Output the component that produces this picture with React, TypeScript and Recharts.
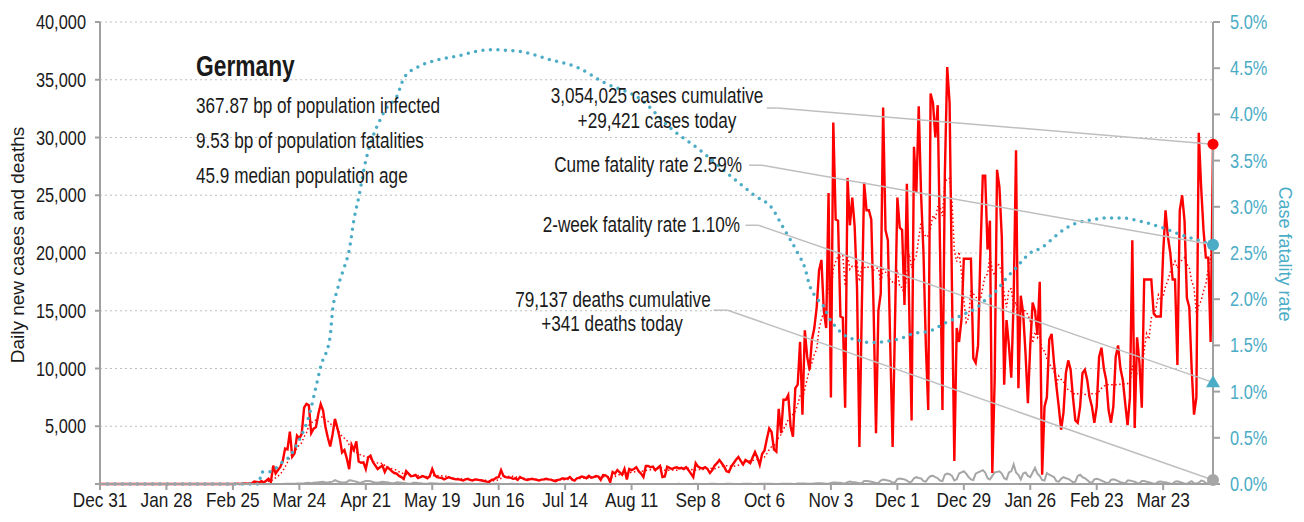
import React from "react";
import {
  ComposedChart,
  Line,
  XAxis,
  YAxis,
  CartesianGrid,
  ReferenceLine,
  ReferenceDot,
} from "recharts";

// no condensed face is installed, so text is squeezed horizontally instead
const FONT = '"Liberation Sans", Arial, sans-serif';
const NARROW = 0.78;
const RED = "#FF0000";
const BLUE = "#4BACC6";
const GREY = "#A6A6A6";
const LEADER = "#BFBFBF";
const AXIS = "#A0A0A0";
const INK = "#1a1a1a";

// x axis: day 0 = Dec 31 2019, a label every 28 days
const tickDays = [0, 28, 56, 84, 112, 140, 168, 196, 224, 252, 280, 308, 336, 364, 392, 420, 448];
const tickLabels = [
  "Dec 31", "Jan 28", "Feb 25", "Mar 24", "Apr 21", "May 19", "Jun 16", "Jul 14",
  "Aug 11", "Sep 8", "Oct 6", "Nov 3", "Dec 1", "Dec 29", "Jan 26", "Feb 23", "Mar 23",
];
const leftTicks = [0, 5000, 10000, 15000, 20000, 25000, 30000, 35000, 40000];
const rightTicks = [0, 0.5, 1, 1.5, 2, 2.5, 3, 3.5, 4, 4.5, 5];

// daily new cases
const casesBeforeMarch = [
  0, 0, 0, 0, 0, 0, 0, 0, 0, 0, 0, 0, 0, 0, 0, 0, 0, 0, 0, 0, 0, 0, 0, 0, 0, 0, 0,
  1, 3, 0, 0, 1, 3, 0, 2, 0, 0, 1, 0, 0, 0, 0, 2,
  0, 0, 0, 0, 0, 0, 0, 0, 0, 0, 0, 0, 0,
];
const casesWave1 = [
  2, 10, 19, 2, 31, 51, 29, 37, 66, 220, 188, 129, 241, 136,
  281, 451, 170, 1597, 910, 1210, 1477, 1985, 3070, 2993,
  4528, 2365, 2660, 4183, 3930, 4337, 6615, 6933, 6824, 4400,
  4790, 4923, 6064, 6922, 6365, 4933, 4031, 3251, 4289, 5633,
  4885, 3990, 2737, 2946, 2218, 1287, 3394, 2945, 3699, 1945,
  1842, 1881, 1300, 2300, 2450, 1900, 1600, 1300, 1450, 1600,
  1040, 1450, 1300, 1100, 950, 900, 700, 600, 430, 1120,
  900, 680, 700, 780, 520, 600, 680, 600, 500, 700,
];
const casesSummer = [
  1300, 780, 600, 550, 520, 400, 500, 600, 500, 450,
  400, 420, 350, 300, 400, 450, 350, 300, 400, 380,
  340, 300, 250, 200, 170, 350, 400, 550, 600, 1200,
  700, 600, 550, 550, 450, 500, 350, 600, 500, 400,
  350, 400, 450, 400, 350, 300, 380, 400, 450, 400,
  380, 300, 250, 350, 400, 500, 450, 480, 600, 380,
  300, 500, 550, 650, 600, 500, 700, 550, 600, 700,
  650, 350, 780, 750, 600, 170, 1040, 900, 1200, 1000,
  800, 1300, 400, 1300, 1200, 1300, 1450, 1100, 900, 600,
  1560, 1560, 1450, 1500, 1200, 1400, 1560, 600, 650, 1500,
  1400, 1300, 1400, 1450, 1350, 1400, 1300, 1450, 1200, 900,
  600, 1800, 1500, 1400, 1350, 1450, 1300, 950, 1200, 1600,
  1800, 2080, 1800, 1500, 1100, 1040, 1500, 1800, 2100, 2340,
  2000, 1700, 2080, 1950, 1800, 2300, 2770, 2300, 1650, 2600,
];
const casesWave2 = [
  2900, 3900, 4800, 4500, 3000, 2800, 6500, 4400, 7300, 7300,
  7700, 5000, 4100, 8300, 8600, 12300, 6000, 13300, 11000, 9900,
  12500, 13500, 15300, 18500, 19400, 15000, 13500, 25200, 7500, 31300,
  22900, 22800, 14500, 14400, 6600, 26500, 22400, 24800, 22300, 17000,
  3200, 15000, 26100, 23700, 23700, 22900, 15000, 4400, 15000, 16500,
  32600, 22000, 21100, 12000, 3200, 14000, 24800, 22200, 22000, 15500,
  26000, 15000, 5500, 29200, 25200, 32700, 25000, 20000, 12000, 6400,
  33800, 33000, 30000, 32800, 20000, 6400, 26800, 36100, 33000, 17000,
  2000, 13500, 12300, 14200, 19500, 19500, 19500, 19500, 10900, 10500,
  12000, 20000, 26700, 26700, 20300, 22800, 950, 9000, 27200, 25700,
  21400, 8600, 14200, 12000, 9200, 16000, 28900, 8300, 16300, 14800,
  11300, 7000,
];
const casesWave3 = [
  12000, 15700, 15000, 12900, 17500, 800, 6700, 7500,
  12500, 13000, 10500, 8500, 6700, 4700, 6200, 9600, 10700, 9900,
  7500, 5500, 5300, 6700, 9600, 9900, 9000, 7500, 6700, 5300,
  6700, 11000, 11800, 10000, 9000, 6400, 5300, 6700, 11000, 12000,
  10000, 9000, 7000, 5100, 7500, 21100, 4850, 12700, 10500, 6600,
  17700, 17700, 17700, 17700, 14800, 14500, 14500, 14500, 20000, 23700,
  21400, 20000, 17700, 17700, 10300, 23700, 25000, 22800, 16100, 15300,
  10000, 6000, 7500, 30400, 25700, 22000, 19600, 19600, 12300, 29421,
];

// daily deaths
const deathsBeforeMarch = new Array(56).fill(0);
const deathsWave1 = [
  0, 0, 0, 0, 0, 0, 0, 0, 0, 0, 0, 0, 0,
  2, 0, 1, 3, 1, 2, 4, 4, 8, 11, 16,
  24, 24, 24, 37, 33, 49, 61, 93, 104, 66,
  104, 130, 149, 176, 184, 126, 140, 173, 206, 333,
  240, 170, 130, 125, 170, 315, 300, 250, 200, 140,
  110, 190, 250, 260, 230, 180, 120, 110, 160, 200,
  170, 150, 100, 70, 60, 140, 130, 110, 90, 60,
  40, 30, 100, 110, 80, 60, 40, 25, 20, 70,
];
const deathsSummer = [
  60, 50, 40, 30, 20, 15, 40, 50, 40, 30,
  25, 15, 10, 30, 35, 30, 25, 15, 10, 8,
  25, 20, 18, 12, 8, 5, 15, 20, 15, 10,
  8, 5, 3, 12, 15, 10, 8, 5, 3, 2,
  10, 12, 8, 6, 3, 2, 1, 8, 10, 6,
  5, 3, 1, 1, 5, 8, 6, 4, 3, 1,
  1, 6, 8, 5, 4, 3, 1, 0, 6, 7,
  5, 3, 2, 1, 0, 5, 6, 4, 3, 2,
  1, 0, 5, 7, 5, 4, 2, 1, 0, 8,
  6, 5, 3, 2, 1, 1, 8, 10, 7, 5,
  3, 1, 1, 9, 11, 8, 6, 3, 1, 1,
  10, 12, 9, 7, 4, 1, 2, 12, 15, 11,
  8, 5, 2, 3, 14, 16, 13, 10, 6, 3,
  4, 15, 18, 14, 12, 8, 4, 5, 16, 20,
];
const deathsWave2 = [
  18, 20, 25, 16, 8, 6, 8, 25, 30, 28,
  22, 15, 8, 10, 33, 45, 40, 35, 20, 12,
  15, 50, 70, 60, 55, 40, 20, 30, 90, 130,
  120, 110, 100, 40, 50, 160, 220, 180, 160, 120,
  60, 70, 260, 260, 230, 200, 150, 80, 100, 300,
  390, 350, 300, 250, 100, 150, 420, 480, 440, 400,
  300, 150, 200, 500, 590, 520, 480, 250, 200, 500,
  700, 720, 600, 500, 300, 250, 800, 900, 850, 700,
  300, 400, 900, 1000, 1100, 900, 600, 400, 350, 900,
  1000, 1100, 1200, 1000, 500, 400, 700, 1000, 1050, 1100,
  900, 500, 400, 1000, 1100, 1700, 1000, 800, 400, 900,
  1000, 700,
];
const deathsWave3 = [
  600, 1000, 1400, 900, 700, 350, 300, 950,
  800, 700, 600, 250, 200, 450, 600, 500, 450, 300,
  150, 200, 700, 800, 600, 500, 350, 150, 100, 400,
  450, 400, 300, 200, 100, 80, 350, 400, 350, 250,
  150, 100, 60, 300, 300, 250, 200, 80, 50, 250,
  250, 200, 150, 100, 30, 50, 200, 220, 180, 150,
  100, 40, 30, 200, 230, 180, 100, 50, 20, 150,
  250, 60, 50, 100, 300, 250, 90, 40, 20, 341,
];

// cumulative case fatality rate (%), read at [day, rate]
const fatalityRate = [
  [0, 0], [67, 0], [68, 0.13], [71, 0.13], [74, 0.17], [76, 0.22], [80, 0.3],
  [84, 0.48], [88, 0.73], [91, 1.05], [93, 1.27], [97, 1.6], [98, 1.88], [100, 2.1],
  [101, 2.2], [103, 2.35], [105, 2.53], [107, 2.86], [109, 3.1], [112, 3.5],
  [115, 3.76], [118, 3.94], [121, 4.08], [125, 4.19], [128, 4.39], [133, 4.5],
  [152, 4.64], [164, 4.7], [177, 4.68], [190, 4.59], [202, 4.5], [212, 4.35],
  [228, 4.16], [240, 3.86], [253, 3.61], [264, 3.37], [276, 3.12], [283, 2.99],
  [288, 2.77], [291, 2.64], [294, 2.5], [297, 2.34], [299, 2.15], [302, 2.01],
  [305, 1.92], [307, 1.81], [310, 1.7], [315, 1.59], [319, 1.56], [325, 1.53],
  [330, 1.54], [338, 1.58], [343, 1.63], [349, 1.65], [356, 1.74], [361, 1.8],
  [365, 1.85], [369, 1.9], [373, 1.99], [378, 2.1], [382, 2.23], [386, 2.34],
  [392, 2.5], [397, 2.56], [402, 2.67], [406, 2.75], [411, 2.82], [418, 2.86],
  [424, 2.88], [430, 2.88], [439, 2.84], [447, 2.78], [454, 2.71], [460, 2.66],
  [469, 2.59],
];
const twoWeekFatalityRate = 1.1;

const dailyCases = [...casesBeforeMarch, ...casesWave1, ...casesSummer, ...casesWave2, ...casesWave3];
const dailyDeaths = [...deathsBeforeMarch, ...deathsWave1, ...deathsSummer, ...deathsWave2, ...deathsWave3];
const lastDay = dailyCases.length - 1;
const cfrLookup = new Map(fatalityRate.map(([d, v]) => [d, v]));
const lastCfr = fatalityRate[fatalityRate.length - 1][1];

const rows = dailyCases.map((cases, day) => {
  // trailing 7-day average, as drawn by the dotted red line
  const win = dailyCases.slice(Math.max(0, day - 6), day + 1);
  const avg = win.reduce((a, b) => a + b, 0) / win.length;
  return {
    day,
    cases,
    avg,
    deaths: dailyDeaths[day],
    cfr: cfrLookup.has(day) ? cfrLookup.get(day) : null,
  };
});

// squeezed text, anchored at (x, y)
const Narrow = ({ x, y, size, anchor = "start", fill = INK, weight = "normal", scale = NARROW, children }: any) => (
  <text
    transform={`translate(${x},${y}) scale(${scale},1)`}
    fontFamily={FONT}
    fontSize={size}
    fontWeight={weight}
    textAnchor={anchor}
    fill={fill}
  >
    {children}
  </text>
);

const XTick = ({ x, y, payload }: any) => (
  <Narrow x={x} y={y + 15} size={21} anchor="middle" scale={0.82}>
    {tickLabels[tickDays.indexOf(payload.value)]}
  </Narrow>
);

const LeftTick = ({ x, y, payload }: any) =>
  payload.value === 0 ? null : (
    <Narrow x={x} y={y + 7} size={21}>
      <tspan textAnchor="end">{payload.value.toLocaleString("en-US")}</tspan>
    </Narrow>
  );

const RightTick = ({ x, y, payload }: any) => (
  <Narrow x={x} y={y + 7} size={21} fill={BLUE}>
    {`${payload.value.toFixed(1)}%`}
  </Narrow>
);

const Triangle = (props: any) => {
  const { cx, cy } = props;
  return <path d={`M${cx},${cy - 7} L${cx + 7},${cy + 5} L${cx - 7},${cy + 5} Z`} fill={BLUE} />;
};

export default function App() {
  return (
    <div style={{ position: "absolute", left: 0, top: 0, width: 1304, height: 522, background: "#fff" }}>
      <ComposedChart width={1304} height={522} data={rows} margin={{ top: 22, right: 0, bottom: 0, left: 0 }}>
        <CartesianGrid yAxisId="left" vertical={false} stroke="#BFBFBF" strokeDasharray="2 3" />
        <XAxis
          dataKey="day"
          type="number"
          domain={[0, lastDay]}
          ticks={tickDays}
          interval={0}
          tick={XTick}
          tickSize={6}
          tickMargin={2}
          stroke={AXIS}
          strokeWidth={2}
          height={38}
        />
        <YAxis
          yAxisId="left"
          domain={[0, 40000]}
          ticks={leftTicks}
          interval={0}
          tick={LeftTick}
          tickSize={5}
          tickMargin={9}
          stroke={AXIS}
          strokeWidth={2}
          width={100}
        />
        <YAxis
          yAxisId="right"
          orientation="right"
          domain={[0, 5]}
          ticks={rightTicks}
          interval={0}
          tick={RightTick}
          tickSize={7}
          tickMargin={10}
          stroke={AXIS}
          strokeWidth={2}
          width={91}
        />
        <Line yAxisId="left" dataKey="deaths" stroke={GREY} strokeWidth={2} dot={false} activeDot={false} isAnimationActive={false} />
        <Line yAxisId="left" dataKey="avg" stroke={RED} strokeWidth={1.5} strokeDasharray="1.5 2.5" dot={false} activeDot={false} isAnimationActive={false} />
        <Line yAxisId="left" dataKey="cases" stroke={RED} strokeWidth={2.4} dot={false} activeDot={false} isAnimationActive={false} />
        <Line
          yAxisId="right"
          dataKey="cfr"
          type="monotone"
          connectNulls
          stroke={BLUE}
          strokeWidth={3.5}
          strokeLinecap="round"
          strokeDasharray="0 7.5"
          dot={false}
          activeDot={false}
          isAnimationActive={false}
        />

        {/* leader lines from the notes to the last values */}
        <ReferenceLine yAxisId="left" segment={[{ x: 281, y: 32550 }, { x: 285.5, y: 32550 }]} stroke={LEADER} strokeWidth={1.5} />
        <ReferenceLine yAxisId="left" segment={[{ x: 285.5, y: 32550 }, { x: lastDay, y: dailyCases[lastDay] }]} stroke={LEADER} strokeWidth={1.5} />
        <ReferenceLine yAxisId="right" segment={[{ x: 273.5, y: 3.45 }, { x: 279, y: 3.45 }]} stroke={LEADER} strokeWidth={1.5} />
        <ReferenceLine yAxisId="right" segment={[{ x: 279, y: 3.45 }, { x: lastDay, y: lastCfr }]} stroke={LEADER} strokeWidth={1.5} />
        <ReferenceLine yAxisId="right" segment={[{ x: 272, y: 2.8 }, { x: 277.5, y: 2.8 }]} stroke={LEADER} strokeWidth={1.5} />
        <ReferenceLine yAxisId="right" segment={[{ x: 277.5, y: 2.8 }, { x: lastDay, y: twoWeekFatalityRate }]} stroke={LEADER} strokeWidth={1.5} />
        <ReferenceLine yAxisId="left" segment={[{ x: 258.5, y: 15050 }, { x: 264.5, y: 15050 }]} stroke={LEADER} strokeWidth={1.5} />
        <ReferenceLine yAxisId="left" segment={[{ x: 264.5, y: 15050 }, { x: lastDay, y: dailyDeaths[lastDay] }]} stroke={LEADER} strokeWidth={1.5} />

        <ReferenceDot yAxisId="left" x={lastDay} y={dailyCases[lastDay]} r={5.5} fill={RED} stroke="none" />
        <ReferenceDot yAxisId="right" x={lastDay} y={lastCfr} r={6} fill={BLUE} stroke="none" />
        <ReferenceDot yAxisId="right" x={lastDay} y={twoWeekFatalityRate} shape={Triangle} />
        <ReferenceDot yAxisId="left" x={lastDay} y={dailyDeaths[lastDay]} r={6} fill={GREY} stroke="none" />
      </ComposedChart>

      <svg width={1304} height={522} style={{ position: "absolute", left: 0, top: 0, pointerEvents: "none" }}>
        <Narrow x={196} y={76} size={30} weight="bold" scale={0.76}>Germany</Narrow>
        <Narrow x={196} y={113} size={22}>367.87 bp of population infected</Narrow>
        <Narrow x={196} y={148} size={22}>9.53 bp of population fatalities</Narrow>
        <Narrow x={196} y={183} size={22}>45.9 median population age</Narrow>

        <Narrow x={657} y={103} size={22} anchor="middle">3,054,025 cases cumulative</Narrow>
        <Narrow x={657} y={128} size={22} anchor="middle">+29,421 cases today</Narrow>
        <Narrow x={742} y={172} size={22} anchor="end">Cume fatality rate 2.59%</Narrow>
        <Narrow x={740} y={232} size={22} anchor="end">2-week fatality rate 1.10%</Narrow>
        <Narrow x={613} y={307} size={22} anchor="middle">79,137 deaths cumulative</Narrow>
        <Narrow x={612} y={331} size={22} anchor="middle">+341 deaths today</Narrow>

        <text transform="translate(24,245) rotate(-90)" fontFamily={FONT} fontSize={19} fill={INK} textAnchor="middle">
          Daily new cases and deaths
        </text>
        <text transform="translate(1279,254) rotate(90)" fontFamily={FONT} fontSize={18} fill={BLUE} textAnchor="middle">
          Case fatality rate
        </text>
      </svg>
    </div>
  );
}
